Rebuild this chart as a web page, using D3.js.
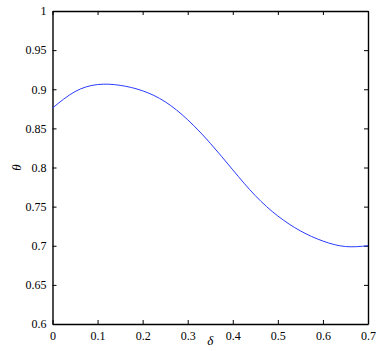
<!DOCTYPE html>
<html>
<head>
<meta charset="utf-8">
<script src="https://cdn.jsdelivr.net/npm/d3@7"></script>
<style>
  body { margin: 0; background: #fff; }
  .tick text { font-family: "Liberation Serif", serif !important; font-size: 12px !important; fill: #000; }
</style>
</head>
<body>
<div id="chart"></div>
<script>
const deltaValues = [0, 0.05, 0.1, 0.15, 0.2, 0.25, 0.3, 0.35, 0.4, 0.45, 0.5, 0.55, 0.6, 0.65, 0.7];
const thetaValues = [0.876, 0.897, 0.906, 0.905, 0.898, 0.884, 0.861, 0.831, 0.797, 0.764, 0.738, 0.719, 0.706, 0.699, 0.700];
const xTicks = [0, 0.1, 0.2, 0.3, 0.4, 0.5, 0.6, 0.7];
const yTicks = [0.6, 0.65, 0.7, 0.75, 0.8, 0.85, 0.9, 0.95, 1];

const width = 379, height = 351;
const margin = { top: 11, right: 11, bottom: 27, left: 52.5 };
const serif = "Liberation Serif";

const svg = d3.select("#chart").append("svg")
  .attr("width", width)
  .attr("height", height);

const x = d3.scaleLinear().domain([0, 0.7]).range([margin.left, width - margin.right]);
const y = d3.scaleLinear().domain([0.6, 1]).range([height - margin.bottom, margin.top]);

const fmt = (d) => String(+d.toFixed(2));

// bottom + left axes with labels, top + right with ticks only (all ticks inward)
svg.append("g")
  .attr("transform", `translate(0,${y.range()[0]})`)
  .call(d3.axisBottom(x).tickValues(xTicks).tickFormat(fmt).tickSizeInner(-4).tickSizeOuter(0).tickPadding(7))
  .attr("font-family", serif)
  .attr("font-size", 12);

svg.append("g")
  .attr("transform", `translate(${x.range()[0]},0)`)
  .call(d3.axisLeft(y).tickValues(yTicks).tickFormat(fmt).tickSizeInner(-4).tickSizeOuter(0).tickPadding(6))
  .attr("font-family", serif)
  .attr("font-size", 12);

svg.append("g")
  .attr("transform", `translate(0,${y.range()[1]})`)
  .call(d3.axisTop(x).tickValues(xTicks).tickFormat("").tickSizeInner(-4).tickSizeOuter(0));

svg.append("g")
  .attr("transform", `translate(${x.range()[1]},0)`)
  .call(d3.axisRight(y).tickValues(yTicks).tickFormat("").tickSizeInner(-4).tickSizeOuter(0));

svg.selectAll(".domain").attr("stroke", "#000").attr("stroke-width", 1.4);
svg.selectAll(".tick line").attr("stroke", "#000");

/* the curve */
const data = deltaValues.map((d, i) => ({ d, t: thetaValues[i] }));
svg.append("path")
  .datum(data)
  .attr("fill", "none")
  .attr("stroke", "#2a3cff")
  .attr("stroke-width", 1)
  .attr("d", d3.line().x((p) => x(p.d)).y((p) => y(p.t)).curve(d3.curveNatural));

/* axis titles */
svg.append("text")
  .attr("x", (x.range()[0] + x.range()[1]) / 2)
  .attr("y", 345)
  .attr("text-anchor", "middle")
  .attr("font-family", serif)
  .attr("font-size", 13)
  .attr("font-style", "italic")
  .text("δ");

svg.append("text")
  .attr("transform", `translate(21,${(y.range()[0] + y.range()[1]) / 2}) rotate(-90)`)
  .attr("text-anchor", "middle")
  .attr("font-family", serif)
  .attr("font-size", 13)
  .attr("font-style", "italic")
  .text("θ");
</script>
</body>
</html>
